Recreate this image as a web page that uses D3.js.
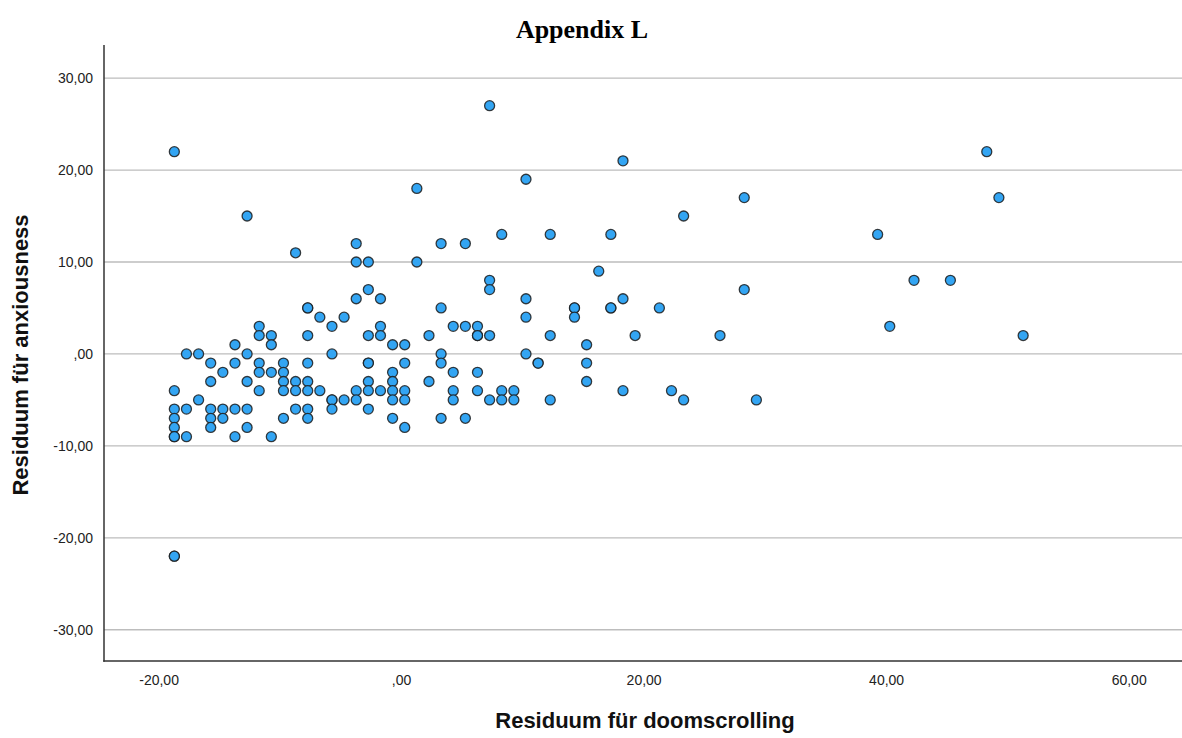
<!DOCTYPE html>
<html>
<head>
<meta charset="utf-8">
<script src="https://cdn.jsdelivr.net/npm/d3@7"></script>
<style>
  html, body { margin: 0; padding: 0; background: #fff; }
  svg { display: block; }
</style>
</head>
<body>
<svg id="chart" width="1182" height="738"></svg>
<script>
// Partial regression residuals: doomscrolling (x) against anxiousness (y)
const doomscrollingResid = [
  -18.7, -18.7, -18.7, -18.7, -18.7, -18.7, -18.7, -18.7, -18.7,
  -17.7, -17.7, -17.7,
  -16.7, -16.7,
  -15.7, -15.7, -15.7, -15.7, -15.7,
  -14.7, -14.7, -14.7,
  -13.7, -13.7, -13.7, -13.7,
  -12.7, -12.7, -12.7, -12.7, -12.7,
  -11.7, -11.7, -11.7, -11.7, -11.7,
  -10.7, -10.7, -10.7, -10.7,
  -9.7, -9.7, -9.7, -9.7, -9.7,
  -8.7, -8.7, -8.7, -8.7,
  -7.7, -7.7, -7.7, -7.7, -7.7, -7.7, -7.7, -7.7,
  -6.7, -6.7,
  -5.7, -5.7, -5.7, -5.7, -5.7,
  -4.7, -4.7,
  -3.7, -3.7, -3.7, -3.7, -3.7,
  -2.7, -2.7, -2.7, -2.7, -2.7, -2.7, -2.7, -2.7,
  -1.7, -1.7, -1.7, -1.7,
  -0.7, -0.7, -0.7, -0.7, -0.7, -0.7,
  0.3, 0.3, 0.3, 0.3, 0.3,
  1.3, 1.3,
  2.3, 2.3,
  3.3, 3.3, 3.3, 3.3, 3.3,
  4.3, 4.3, 4.3, 4.3,
  5.3, 5.3, 5.3,
  6.3, 6.3, 6.3, 6.3, 6.3,
  7.3, 7.3, 7.3, 7.3, 7.3,
  8.3, 8.3, 8.3,
  9.3, 9.3,
  10.3, 10.3, 10.3, 10.3,
  11.3, 11.3,
  12.3, 12.3, 12.3,
  14.3, 14.3, 14.3,
  15.3, 15.3, 15.3,
  16.3,
  17.3, 17.3, 17.3,
  18.3, 18.3, 18.3,
  19.3,
  21.3,
  22.3,
  23.3, 23.3,
  26.3,
  28.3, 28.3,
  29.3,
  39.3,
  40.3,
  42.3,
  45.3,
  48.3,
  49.3,
  51.3
];

const anxiousnessResid = [
  22, -4, -6, -7, -8, -9, -9, -22, -22,
  0, -6, -9,
  0, -5,
  -1, -3, -6, -7, -8,
  -2, -6, -7,
  1, -1, -6, -9,
  15, 0, -3, -6, -8,
  3, 2, -1, -2, -4,
  2, 1, -2, -9,
  -1, -2, -3, -4, -7,
  11, -3, -4, -6,
  5, 5, 2, -1, -3, -4, -6, -7,
  4, -4,
  3, 0, -5, -5, -6,
  4, -5,
  12, 10, 6, -4, -5,
  10, 7, 2, -1, -1, -3, -4, -6,
  6, 3, 2, -4,
  1, -2, -3, -4, -5, -7,
  1, -1, -4, -5, -8,
  18, 10,
  2, -3,
  12, 5, 0, -1, -7,
  3, -2, -4, -5,
  12, 3, -7,
  3, 2, 2, -2, -4,
  27, 8, 7, 2, -5,
  13, -4, -5,
  -4, -5,
  19, 6, 4, 0,
  -1, -1,
  13, 2, -5,
  5, 5, 4,
  1, -1, -3,
  9,
  13, 5, 5,
  21, 6, -4,
  2,
  5,
  -4,
  15, -5,
  2,
  17, 7,
  -5,
  13,
  3,
  8,
  8,
  22,
  17,
  2
];

const xTickValues = [-20, 0, 20, 40, 60];
const yTickValues = [30, 20, 10, 0, -10, -20, -30];

const chartTitle = "Appendix L";
const xAxisTitle = "Residuum für doomscrolling";
const yAxisTitle = "Residuum für anxiousness";

const points = doomscrollingResid.map((x, i) => ({ x, y: anxiousnessResid[i] }));

// German-style numbers: decimal comma, plain hyphen minus, no leading zero (",00", "-20,00")
const deLocale = d3.formatLocale({ decimal: ",", thousands: ".", grouping: [3], currency: ["", " €"], minus: "-" });
const fmt = v => deLocale.format(".2f")(v).replace(/^(-?)0,/, "$1,");

const svg = d3.select("#chart");
const plotLeft = 104, plotRight = 1182, plotTop = 45, plotBottom = 661;

const x = d3.scaleLinear().domain([-24.5, 64.4]).range([plotLeft, plotRight]);
const y = d3.scaleLinear().domain([-33.4, 33.6]).range([plotBottom, plotTop]);

// Horizontal grid lines
svg.append("g")
  .selectAll("line")
  .data(yTickValues)
  .join("line")
  .attr("x1", plotLeft).attr("x2", plotRight)
  .attr("y1", d => y(d)).attr("y2", d => y(d))
  .attr("stroke", "#bdbdbd")
  .attr("stroke-width", 1.3);

// Y axis (labels only, no tick marks)
const yAxis = d3.axisLeft(y).tickValues(yTickValues).tickFormat(fmt).tickSize(0).tickPadding(11);
const gy = svg.append("g").attr("transform", `translate(${plotLeft},0)`).call(yAxis);
gy.select(".domain").remove();
gy.selectAll("text")
  .attr("font-family", "Liberation Sans, Arial, sans-serif")
  .attr("font-size", 14)
  .attr("fill", "#222");

// X axis
const xAxis = d3.axisBottom(x).tickValues(xTickValues).tickFormat(fmt).tickSize(0).tickPadding(14);
const gx = svg.append("g").attr("transform", `translate(0,${plotBottom})`).call(xAxis);
gx.select(".domain").remove();
gx.selectAll("text")
  .attr("font-family", "Liberation Sans, Arial, sans-serif")
  .attr("font-size", 14)
  .attr("fill", "#222");

// Axis frame lines
svg.append("line")
  .attr("x1", plotLeft).attr("x2", plotLeft).attr("y1", plotTop).attr("y2", plotBottom + 0.75)
  .attr("stroke", "#333").attr("stroke-width", 1.5);
svg.append("line")
  .attr("x1", plotLeft - 0.75).attr("x2", plotRight).attr("y1", plotBottom).attr("y2", plotBottom)
  .attr("stroke", "#333").attr("stroke-width", 1.5);

// Scatter points
svg.append("g")
  .selectAll("circle")
  .data(points)
  .join("circle")
  .attr("cx", d => x(d.x))
  .attr("cy", d => y(d.y))
  .attr("r", 5)
  .attr("fill", "#33a5f3")
  .attr("stroke", "#1c1c1c")
  .attr("stroke-opacity", 0.85)
  .attr("stroke-width", 1.3);

// Titles
svg.append("text")
  .attr("x", 582).attr("y", 38)
  .attr("text-anchor", "middle")
  .attr("font-family", "Liberation Serif, 'Times New Roman', serif")
  .attr("font-weight", "bold")
  .attr("font-size", 26)
  .attr("fill", "#000")
  .text(chartTitle);

svg.append("text")
  .attr("x", 645).attr("y", 728)
  .attr("text-anchor", "middle")
  .attr("font-family", "Liberation Sans, Arial, sans-serif")
  .attr("font-weight", "bold")
  .attr("font-size", 22)
  .attr("fill", "#111")
  .text(xAxisTitle);

svg.append("text")
  .attr("transform", "translate(28,355) rotate(-90)")
  .attr("text-anchor", "middle")
  .attr("font-family", "Liberation Sans, Arial, sans-serif")
  .attr("font-weight", "bold")
  .attr("font-size", 22)
  .attr("fill", "#111")
  .text(yAxisTitle);
</script>
</body>
</html>
